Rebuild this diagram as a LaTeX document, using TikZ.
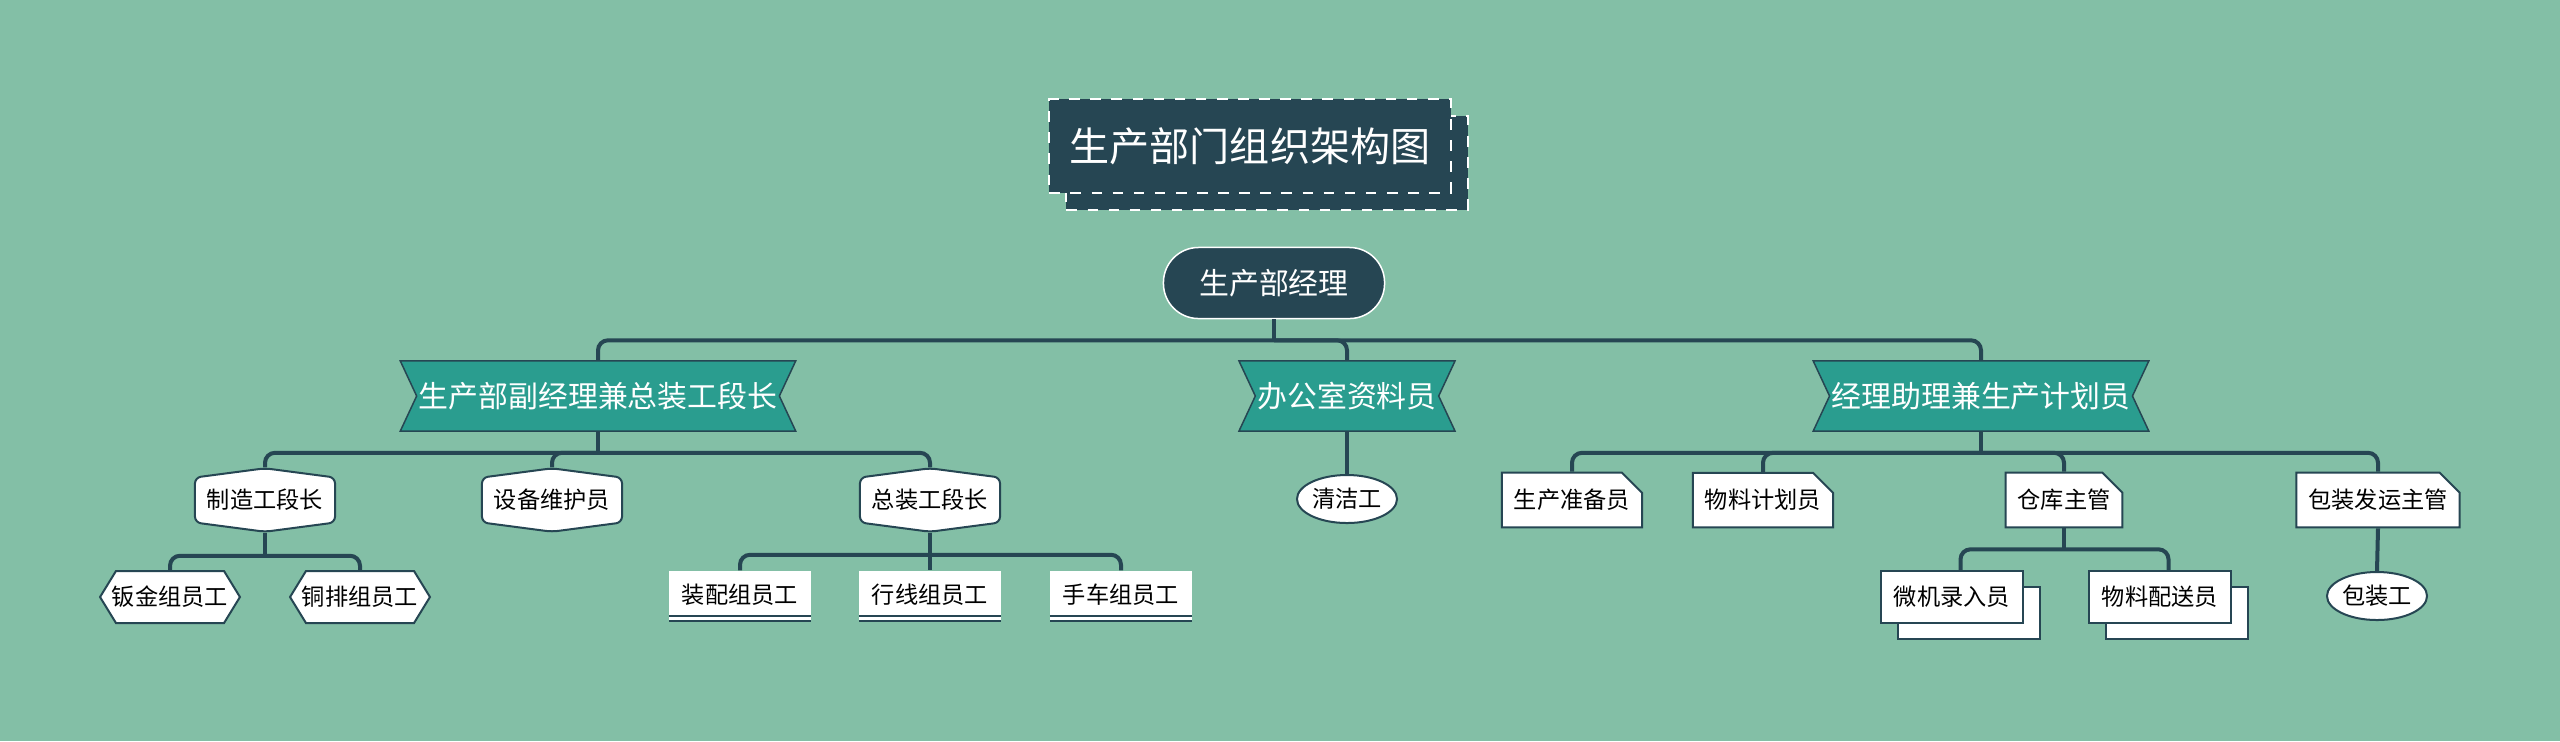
\documentclass[tikz,border=0pt]{standalone}
\usepackage{fontspec}
\newfontfamily\cjk{Noto Sans CJK SC}
\usetikzlibrary{shapes.symbols}
\usetikzlibrary{shapes.misc}
\usetikzlibrary{shapes.geometric}
\usetikzlibrary{shadows}
\definecolor{org-bg}{HTML}{83BFA6}
\definecolor{org-dark}{HTML}{264653}
\definecolor{org-teal}{HTML}{2A9D8F}
\tikzset{
  org-link/.style={draw=org-dark, line width=0.04cm, rounded corners=0.1cm},
  org-big/.style={font=\cjk\fontsize{8.5}{10}\selectfont},
  org-small/.style={font=\cjk\fontsize{6.6}{8}\selectfont},
  org-title/.style={fill=org-dark, draw=white, dashed, line width=0.02cm, text=white,
    minimum width=4.01cm, minimum height=0.93cm, font=\cjk\fontsize{11.4}{14}\selectfont,
    copy shadow={shadow xshift=0.17cm, shadow yshift=-0.17cm, fill=org-dark, draw=white, dashed}},
  org-root/.style={org-big, fill=org-dark, draw=white, line width=0.015cm, rounded corners=0.35cm,
    text=white, minimum width=2.21cm, minimum height=0.71cm},
  org-ribbon/.style={org-big, signal, signal from=west and east, signal to=nowhere,
    signal pointer angle=130, fill=org-teal, draw=org-dark, line width=0.015cm, text=white,
    minimum height=0.7cm, inner xsep=0.02cm},
  org-shield/.style={org-small, signal, signal to=north and south, signal from=nowhere,
    signal pointer angle=165, rounded corners=0.06cm, fill=white, draw=org-dark,
    line width=0.02cm, minimum width=1.4cm, minimum height=0.54cm},
  org-hex/.style={org-small, signal, signal to=west and east, signal from=nowhere,
    signal pointer angle=117, fill=white, draw=org-dark, line width=0.02cm,
    minimum width=1.05cm, minimum height=0.52cm, inner xsep=-0.04cm},
  org-ruled/.style={org-small, fill=white, minimum width=1.41cm, minimum height=0.47cm},
  org-rule/.style={draw=org-dark, line width=0.02cm, double=white, double distance=0.035cm},
  org-note/.style={org-small, chamfered rectangle, chamfered rectangle corners=north east,
    chamfered rectangle xsep=0.1cm, chamfered rectangle ysep=0.1cm, fill=white,
    draw=org-dark, line width=0.02cm, minimum height=0.36cm, inner xsep=0.02cm,
    inner ysep=0.065cm},
  org-stack/.style={org-small, fill=white, draw=org-dark, line width=0.02cm,
    minimum width=1.41cm, minimum height=0.52cm,
    copy shadow={shadow xshift=0.17cm, shadow yshift=-0.16cm, fill=white, draw=org-dark}},
  org-oval/.style={org-small, ellipse, fill=white, draw=org-dark, line width=0.02cm,
    minimum width=1cm, minimum height=0.48cm, inner sep=0pt},
}
\begin{document}
\begin{tikzpicture}[x=0.01cm, y=-0.01cm]
\useasboundingbox[fill=org-bg] (0,0) rectangle (2560,741);
% title and head
\node[org-title] (title) at (1250,146) {生产部门组织架构图};
\node[org-root] (root) at (1274,283) {生产部经理};
% first level
\node[org-ribbon, minimum width=3.91cm] (deputy) at (598,396) {生产部副经理兼总装工段长};
\node[org-ribbon, minimum width=2.1cm] (office) at (1347,396) {办公室资料员};
\node[org-ribbon, minimum width=3.32cm] (assistant) at (1981,396) {经理助理兼生产计划员};
% second level
\node[org-shield] (make) at (265,500) {制造工段长};
\node[org-shield] (maint) at (552,500) {设备维护员};
\node[org-shield] (asm) at (930,500) {总装工段长};
\node[org-oval] (cleaner) at (1347,499) {清洁工};
\node[org-note] (prep) at (1572,500) {生产准备员};
\node[org-note] (mat-plan) at (1763,500) {物料计划员};
\node[org-note] (store) at (2064,500) {仓库主管};
\node[org-note] (ship) at (2378,500) {包装发运主管};
% third level
\node[org-hex] (sheet-crew) at (170,597) {钣金组员工};
\node[org-hex] (copper-crew) at (360,597) {铜排组员工};
\node[org-ruled] (fit-crew) at (740,594.5) {装配组员工};
\node[org-ruled] (wire-crew) at (930,594.5) {行线组员工};
\node[org-ruled] (cart-crew) at (1121,594.5) {手车组员工};
\foreach \crew in {fit-crew,wire-crew,cart-crew}
  \draw[org-rule] (\crew.south west) -- (\crew.south east);
\node[org-stack] (entry) at (1952,597) {微机录入员};
\node[org-stack] (deliver) at (2160,597) {物料配送员};
\node[org-oval] (pack) at (2377,596) {包装工};
% connectors
\coordinate (bus-root) at ([yshift=-0.21cm]root.south);
\draw[org-link] (root.south) -- (bus-root);
\draw[org-link] (deputy.north) |- (bus-root) -| (assistant.north);
\draw[org-link] (bus-root) -| (office.north);
\coordinate (bus-deputy) at ([yshift=-0.21cm]deputy.south);
\draw[org-link] (deputy.south) -- (bus-deputy);
\draw[org-link] (make.north) |- (bus-deputy) -| (asm.north);
\draw[org-link] (bus-deputy) -| (maint.north);
\draw[org-link] (office.south) -- (cleaner.north);
\coordinate (bus-assistant) at ([yshift=-0.21cm]assistant.south);
\draw[org-link] (assistant.south) -- (bus-assistant);
\draw[org-link] (prep.north) |- (bus-assistant) -| (ship.north);
\draw[org-link] (bus-assistant) -| (mat-plan.north);
\draw[org-link] (bus-assistant) -| (store.north);
\coordinate (bus-make) at ([yshift=-0.23cm]make.south);
\draw[org-link] (make.south) -- (bus-make);
\draw[org-link] (sheet-crew.north) |- (bus-make) -| (copper-crew.north);
\coordinate (bus-asm) at ([yshift=-0.22cm]asm.south);
\draw[org-link] (fit-crew.north) |- (bus-asm) -| (cart-crew.north);
\draw[org-link] (asm.south) -- (wire-crew.north);
\coordinate (bus-store) at ([yshift=-0.21cm]store.south);
\draw[org-link] (store.south) -- (bus-store);
\draw[org-link] ([xshift=0.085cm]entry.north) |- (bus-store) -| ([xshift=0.085cm]deliver.north);
\draw[org-link] (ship.south) -- (pack.north);
\end{tikzpicture}
\end{document}
